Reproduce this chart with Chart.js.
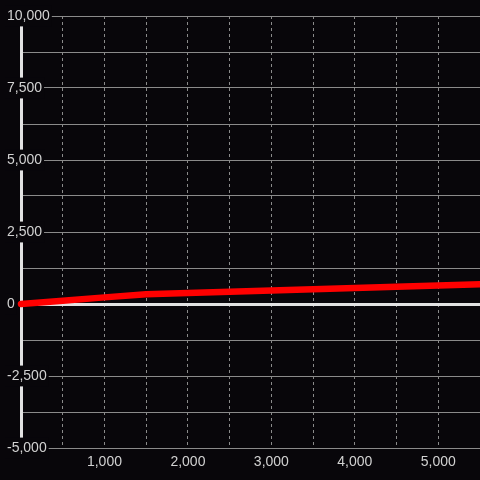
<!DOCTYPE html>
<html>
<head>
<meta charset="utf-8">
<script src="https://cdn.jsdelivr.net/npm/chart.js@4"></script>
<style>
  html, body { margin: 0; padding: 0; background: #08060a; }
  #chart { display: block; }
</style>
</head>
<body>
<canvas id="chart" width="480" height="480"></canvas>
<script>
// data
const xValues = [0, 500, 1000, 1500, 2000, 2500, 3000, 3500, 4000, 4500, 5000, 5500];
const yValues = [0, 115, 230, 335, 380, 425, 470, 510, 555, 600, 640, 685];

const xLabelTicks = [1000, 2000, 3000, 4000, 5000];
const yLabelTicks = [-5000, -2500, 0, 2500, 5000, 7500, 10000];

const bg = '#08060a';
const gridColor = '#8a8a8a';
const axisColor = '#e2e2e2';
const textColor = '#d2d2d2';

let points = xValues.map((x, i) => ({x: x, y: yValues[i]}));

let ctx = document.getElementById('chart').getContext('2d');
let myChart = new Chart(ctx, {
    type: 'line',
    data: {
        datasets: [{
            data: points,
            borderColor: '#ff0000',
            borderWidth: 6.5,
            borderCapStyle: 'round',
            borderJoinStyle: 'round',
            pointRadius: 0,
            tension: 0,
            clip: false
        }]
    },
    options: {
        responsive: false,
        animation: false,
        layout: {padding: {top: 16, right: 0, bottom: 0, left: 0}},
        plugins: {legend: {display: false}, tooltip: {enabled: false}},
        scales: {
            x: {
                type: 'linear',
                min: 0,
                max: 5500,
                border: {display: false, dash: [3, 3]},
                grid: {
                    color: gridColor,
                    lineWidth: 1,
                    drawTicks: false
                },
                ticks: {
                    stepSize: 500,
                    autoSkip: false,
                    maxRotation: 0,
                    padding: 6,
                    color: textColor,
                    font: {family: 'Liberation Sans', size: 14},
                    callback: v => xLabelTicks.includes(v) ? v.toLocaleString('en-US') : ''
                },
                afterFit: s => {
                    s.height = 32;
                    s.paddingLeft = 0;
                    s.paddingRight = 0;
                }
            },
            y: {
                type: 'linear',
                position: 'left',
                min: -5000,
                max: 10000,
                border: {display: true, color: axisColor, width: 3},
                grid: {
                    color: c => c.tick && c.tick.value === 0 ? axisColor : gridColor,
                    lineWidth: c => c.tick && c.tick.value === 0 ? 3 : 1,
                    drawTicks: false
                },
                ticks: {
                    stepSize: 1250,
                    autoSkip: false,
                    mirror: true,
                    padding: -14,
                    color: textColor,
                    font: {family: 'Liberation Sans', size: 14},
                    showLabelBackdrop: c => yLabelTicks.includes(c.tick.value),
                    backdropColor: bg,
                    backdropPadding: 2,
                    callback: v => yLabelTicks.includes(v) ? v.toLocaleString('en-US') : ''
                },
                afterFit: s => {
                    s.width = 21;
                    s.paddingTop = 0;
                    s.paddingBottom = 0;
                }
            }
        }
    }
});
</script>
</body>
</html>
